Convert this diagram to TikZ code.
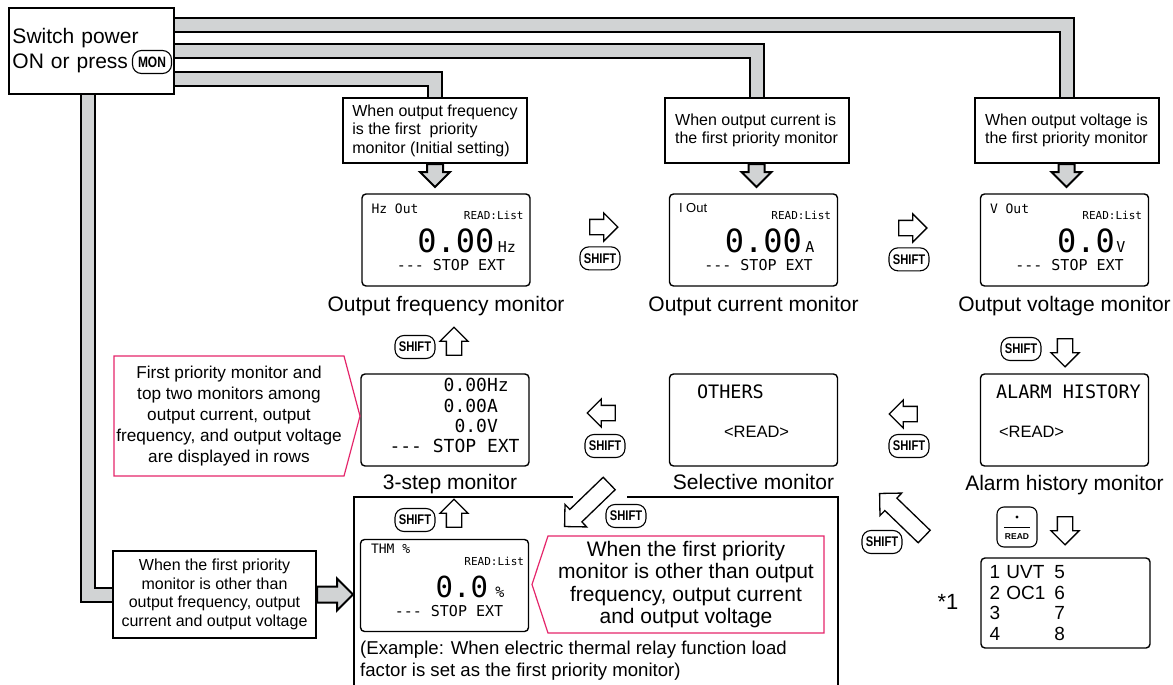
\documentclass[tikz,border=0pt]{standalone}
\usepackage{fontspec}
\setmainfont{Liberation Sans}
\newfontfamily\lcdfont{DejaVu Sans Mono}
\usetikzlibrary{shapes.arrows, positioning, calc, backgrounds}
\definecolor{pipegray}{RGB}{209,211,212}
\definecolor{callpink}{RGB}{229,38,107}
\newcommand{\keytxt}[1]{\scalebox{0.8}[1]{#1}}
\newcommand{\fsz}[2]{\fontsize{#1}{#2}\selectfont}
\newcommand{\lcddash}{\hbox{-}\hbox{-}\hbox{-}}

\begin{document}
\begin{tikzpicture}[x=1pt, y=-1pt,
  pipe/.style={double=pipegray, double distance=12pt, line width=2pt},
  garrow/.style={single arrow, draw, fill=pipegray, line width=2pt, inner xsep=0pt, inner ysep=7pt, outer sep=0pt, single arrow head extend=7pt},
  warrow/.style={single arrow, draw, fill=white, line width=1.3pt, inner xsep=0pt, inner ysep=7pt, minimum height=28pt, single arrow head extend=6.5pt},
  darrow/.style={warrow, minimum height=62pt, inner ysep=8pt, single arrow head extend=7pt},
  lab/.style={rectangle, draw, fill=white, line width=2pt, align=left, minimum width=184pt, minimum height=65pt, font=\fsz{16}{18.5}},
  lcd/.style={rectangle, draw, fill=white, rounded corners=4pt, line width=1.4pt, minimum width=168pt, minimum height=92pt},
  key/.style={draw, fill=white, rounded corners=9pt, line width=1.1pt, minimum width=40pt, minimum height=23pt, inner sep=0pt, font=\bfseries\fsz{14}{14}},
  moncap/.style={font=\fsz{21}{24}},
  lcdtxt/.style={inner sep=0pt, font=\lcdfont\fsz{11}{11}},
  callout/.style={align=center, inner sep=0pt, outer sep=0pt},
  pinkline/.style={draw=callpink, line width=1.2pt, line join=miter}
]
\path[use as bounding box] (0,0) rectangle (1173,685);

% start and first priority labels
\node[rectangle, draw, fill=white, line width=2pt, anchor=north west, minimum width=165pt, minimum height=86pt, align=left, text width=158pt, font=\fsz{21}{25}] (start) at (8,7) {Switch power\\ON or press};
\node[key, minimum width=39pt, font=\bfseries\fsz{15}{15}] (mon) at (152,62) {\keytxt{MON}};
\node[lab] (flab) at (435,130.5) {When output frequency\\is the first\ \ priority\\monitor (Initial setting)};
\node[lab] (clab) at (756.5,130.5) {When output current is\\the first priority monitor};
\node[lab] (vlab) at (1066.5,130.5) {When output voltage is\\the first priority monitor};
\node[rectangle, draw, fill=white, line width=2pt, align=center, minimum width=203pt, minimum height=87pt, font=\fsz{16}{18.5}] (olab) at (214.5,594.5) {When the first priority\\monitor is other than\\output frequency, output\\current and output voltage};

\begin{pgfonlayer}{background}
  \fill[white] (0,0) rectangle (1173,685);
  \draw[pipe] ([yshift=-18pt]start.north east) -| (vlab.north);
  \draw[pipe] ([yshift=-44pt]start.north east) -| (clab.north);
  \draw[pipe] ([yshift=-72pt]start.north east) -| (flab.north);
  \draw[pipe] ([xshift=80pt]start.south west) |- (olab.west);
\end{pgfonlayer}

\node[garrow, rotate=-90, anchor=tail, minimum height=23pt] (fga) at (flab.south) {};
\node[garrow, rotate=-90, anchor=tail, minimum height=23pt] (cga) at (clab.south) {};
\node[garrow, rotate=-90, anchor=tail, minimum height=23pt] (vga) at (vlab.south) {};
\node[garrow, anchor=tail, minimum height=36pt, single arrow head extend=8pt] (oga) at (olab.east) {};

% monitor displays
\node[lcd] (fdisp) at (446,240) {};
\node[lcd] (cdisp) at (753.5,240) {};
\node[lcd] (vdisp) at (1064.5,240) {};
\node[lcd] (tdisp) at (445,420) {};
\node[lcd] (sdisp) at (753.5,420) {};
\node[lcd] (adisp) at (1064.5,420) {};
\node[lcd] (hdisp) at (444.5,585.5) {};

\node[lcdtxt, font=\lcdfont\fsz{13}{13}, anchor=west] (ftitle) at ([shift={(10pt,-15pt)}]fdisp.north west) {Hz Out};
\node[lcdtxt, anchor=east] (fread) at ([shift={(-7pt,-22pt)}]fdisp.north east) {READ:List};
\node[lcdtxt, font=\lcdfont\fsz{32}{32}, anchor=base east] (fval) at ([shift={(-36pt,-59pt)}]fdisp.north east) {0.00};
\node[lcdtxt, font=\lcdfont\fsz{15}{15}, anchor=base west] (funit) at ([shift={(-33pt,-59pt)}]fdisp.north east) {Hz};
\node[lcdtxt, font=\lcdfont\fsz{15}{15}, anchor=base] (fstat) at ([shift={(5pt,-77pt)}]fdisp.north) {\lcddash{} STOP EXT};

\node[lcdtxt, font=\fsz{13}{13}, anchor=west] (ctitle) at ([shift={(10pt,-15pt)}]cdisp.north west) {I Out};
\node[lcdtxt, anchor=east] (cread) at ([shift={(-7pt,-22pt)}]cdisp.north east) {READ:List};
\node[lcdtxt, font=\lcdfont\fsz{32}{32}, anchor=base east] (cval) at ([shift={(-36pt,-59pt)}]cdisp.north east) {0.00};
\node[lcdtxt, font=\lcdfont\fsz{15}{15}, anchor=base west] (cunit) at ([shift={(-33pt,-59pt)}]cdisp.north east) {A};
\node[lcdtxt, font=\lcdfont\fsz{15}{15}, anchor=base] (cstat) at ([shift={(5pt,-77pt)}]cdisp.north) {\lcddash{} STOP EXT};

\node[lcdtxt, font=\lcdfont\fsz{13}{13}, anchor=west] (vtitle) at ([shift={(10pt,-15pt)}]vdisp.north west) {V Out};
\node[lcdtxt, anchor=east] (vread) at ([shift={(-7pt,-22pt)}]vdisp.north east) {READ:List};
\node[lcdtxt, font=\lcdfont\fsz{32}{32}, anchor=base east] (vval) at ([shift={(-34pt,-59pt)}]vdisp.north east) {0.0};
\node[lcdtxt, font=\lcdfont\fsz{15}{15}, anchor=base west] (vunit) at ([shift={(-33pt,-59pt)}]vdisp.north east) {V};
\node[lcdtxt, font=\lcdfont\fsz{15}{15}, anchor=base] (vstat) at ([shift={(5pt,-77pt)}]vdisp.north) {\lcddash{} STOP EXT};

\node[lcdtxt, font=\lcdfont\fsz{18}{20.3}, align=left, anchor=north west] (trows) at ([shift={(29pt,-5pt)}]tdisp.north west) {\phantom{00000}0.00Hz\\\phantom{00000}0.00A\\\phantom{000000}0.0V\\\lcddash{} STOP EXT};

\node[lcdtxt, font=\lcdfont\fsz{18.5}{18.5}, anchor=west] (stitle) at ([shift={(28pt,-18pt)}]sdisp.north west) {OTHERS};
\node[lcdtxt, font=\fsz{16.5}{16.5}, anchor=west] (sread) at ([shift={(55pt,-59pt)}]sdisp.north west) {<READ>};
\node[lcdtxt, font=\lcdfont\fsz{18.5}{18.5}, anchor=west] (atitle) at ([shift={(16pt,-18pt)}]adisp.north west) {ALARM HISTORY};
\node[lcdtxt, font=\fsz{16.5}{16.5}, anchor=west] (aread) at ([shift={(19pt,-59pt)}]adisp.north west) {<READ>};

\node[lcdtxt, font=\lcdfont\fsz{13}{13}, anchor=west] (htitle) at ([shift={(11pt,-10pt)}]hdisp.north west) {THM \%};
\node[lcdtxt, anchor=east] (hread) at ([shift={(-5pt,-23pt)}]hdisp.north east) {READ:List};
\node[lcdtxt, font=\lcdfont\fsz{29}{29}, anchor=base east] (hval) at ([shift={(-41pt,-59pt)}]hdisp.north east) {0.0};
\node[lcdtxt, font=\lcdfont\fsz{15}{15}, anchor=base west] (hunit) at ([shift={(-34pt,-59pt)}]hdisp.north east) {\%};
\node[lcdtxt, font=\lcdfont\fsz{15}{15}, anchor=base] (hstat) at ([shift={(4.5pt,-78pt)}]hdisp.north) {\lcddash{} STOP EXT};

% captions
\node[moncap, below=6pt of fdisp] (fcap) {Output frequency monitor};
\node[moncap, below=6pt of cdisp] (ccap) {Output current monitor};
\node[moncap, below=6pt of vdisp] (vcap) {Output voltage monitor};
\node[moncap, below=4pt of tdisp, xshift=5pt] (tcap) {3-step monitor};
\node[moncap, below=4pt of sdisp] (scap) {Selective monitor};
\node[moncap, below=5pt of adisp] (acap) {Alarm history monitor};

% frame of the other monitors
\draw[line width=2.2pt] (573,497) -- (354,497) -- (354,686);
\draw[line width=2.2pt] (627,497) -- (838,497) -- (838,686);
\node[anchor=north west, align=left, inner sep=0pt, font=\fsz{18.6}{22}] (hnote) at (360,641) {(Example: When electric thermal relay function load\\factor is set as the first priority monitor)};

% callouts
\node[callout, minimum width=230pt, minimum height=120pt, font=\fsz{17.2}{21}] (call1) at (229,416) {First priority monitor and\\top two monitors among\\output current, output\\frequency, and output voltage\\are displayed in rows};
\draw[pinkline] (call1.north west) -- (call1.north east) -- ([xshift=16pt]call1.east) -- (call1.south east) -- (call1.south west) -- cycle;
\node[callout, minimum width=276pt, minimum height=97pt, font=\fsz{21}{22.5}] (call2) at (686,584.5) {When the first priority\\monitor is other than output\\frequency, output current\\and output voltage};
\draw[pinkline] (call2.north east) -- (call2.north west) -- ([xshift=-16pt]call2.west) -- (call2.south west) -- (call2.south east) -- cycle;

% SHIFT arrows
\node[warrow] (ar1) at (600,227) {};
\node[key, below=11pt of ar1] (sh1) {\keytxt{SHIFT}};
\node[warrow] (ar2) at (909,228) {};
\node[key, below=11pt of ar2] (sh2) {\keytxt{SHIFT}};
\node[warrow, rotate=90] (ar3) at (454,345) {};
\node[key] (sh3) at (415,347) {\keytxt{SHIFT}};
\node[warrow, rotate=-90] (ar4) at (1065,349) {};
\node[key] (sh4) at (1021,349) {\keytxt{SHIFT}};
\node[warrow, rotate=180] (ar5) at (605,413) {};
\node[key] (sh5) at (605,446) {\keytxt{SHIFT}};
\node[warrow, rotate=180] (ar6) at (907,414) {};
\node[key] (sh6) at (909,446) {\keytxt{SHIFT}};
\node[darrow, rotate=136] (ar7) at (905,518) {};
\node[key] (sh7) at (882,542) {\keytxt{SHIFT}};
\node[darrow, rotate=-136] (ar8) at (590,502) {};
\node[key] (sh8) at (626,516) {\keytxt{SHIFT}};
\node[warrow, rotate=90] (ar9) at (454,517) {};
\node[key] (sh9) at (415,520) {\keytxt{SHIFT}};

% alarm list
\node[draw, rounded corners=7pt, line width=1.1pt, minimum size=40pt] (readkey) at (1017,527) {};
\fill ([yshift=10pt]readkey.center) circle (1.7pt);
\draw[line width=0.7pt] ([xshift=-13pt]readkey.center) -- ([xshift=13pt]readkey.center);
\node[font=\bfseries\fsz{8.5}{9}, inner sep=0pt] (readlbl) at ([yshift=-10pt]readkey.center) {READ};
\node[warrow, rotate=-90] (ar10) at (1065,527) {};
\node[lcd, minimum width=169pt, minimum height=90pt, align=left, text width=152pt, font=\fsz{19}{20.5}] (alist) at (1065.5,603) {\makebox[65pt][l]{1 UVT}5\\\makebox[65pt][l]{2 OC1}6\\\makebox[65pt][l]{3}7\\\makebox[65pt][l]{4}8};
\node[font=\fsz{22}{22}] (note1) at (948,602) {*1};
\end{tikzpicture}
\end{document}
